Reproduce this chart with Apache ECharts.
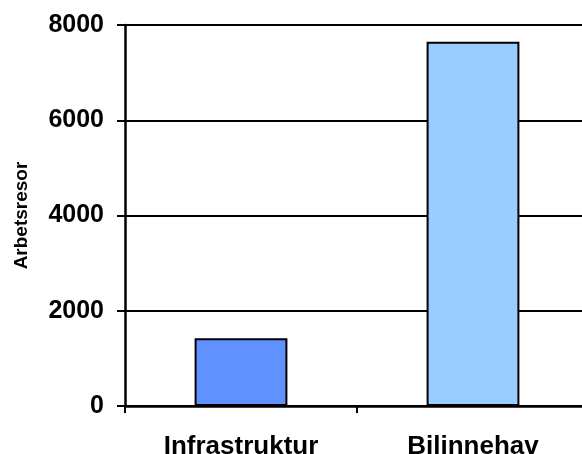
<!DOCTYPE html>
<html>
<head>
<meta charset="utf-8">
<script src="https://cdn.jsdelivr.net/npm/echarts@6/dist/echarts.min.js"></script>
<style>
  html, body { margin: 0; padding: 0; background: #fff; }
  #chart { width: 582px; height: 454px; }
</style>
</head>
<body>
<div id="chart"></div>
<script>
// Arbetsresor per åtgärd
const categories = ['Infrastruktur', 'Bilinnehav'];
const values = [1420, 7650];
const barColors = ['#6190FF', '#99CCFF'];
const yTicks = { min: 0, max: 8000, interval: 2000 };

const chart = echarts.init(document.getElementById('chart'));
const font = 'Arial, "Liberation Sans", Helvetica, sans-serif';

chart.setOption({
  animation: false,
  // plot area runs a little past the right edge of the canvas
  grid: {
    left: 125, top: 25, height: 381, width: 464,
    containLabel: false, outerBoundsMode: 'none'
  },
  xAxis: {
    type: 'category',
    data: categories,
    boundaryGap: true,
    axisLine: { lineStyle: { color: '#000', width: 2.5 } },
    axisTick: { show: true, length: 7, lineStyle: { color: '#000', width: 2 } },
    axisLabel: { color: '#000', fontFamily: font, fontWeight: 'bold', fontSize: 26, margin: 28 },
    splitLine: { show: false }
  },
  yAxis: {
    type: 'value',
    min: yTicks.min,
    max: yTicks.max,
    interval: yTicks.interval,
    name: 'Arbetsresor',
    nameLocation: 'middle',
    nameGap: 94,
    nameTextStyle: { color: '#000', fontFamily: font, fontWeight: 'bold', fontSize: 19 },
    axisLine: { show: true, lineStyle: { color: '#000', width: 2.5 } },
    axisTick: { show: true, length: 8, lineStyle: { color: '#000', width: 2 } },
    axisLabel: {
      color: '#000', fontFamily: font, fontWeight: 'bold', fontSize: 25, margin: 21,
      formatter: v => String(v)
    },
    splitLine: { show: true, lineStyle: { color: '#000', width: 2 } }
  },
  series: [{
    type: 'bar',
    barWidth: '40%',
    data: values.map((v, i) => ({
      value: v,
      itemStyle: { color: barColors[i], borderColor: '#000', borderWidth: 2 }
    }))
  }]
});
</script>
</body>
</html>
